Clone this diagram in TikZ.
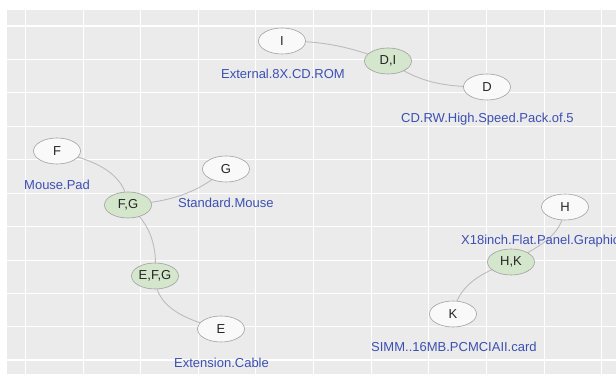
\documentclass[tikz,border=0pt]{standalone}
\usepackage{fontspec}
\setmainfont{Liberation Sans}
\usetikzlibrary{shapes.geometric}
\pgfdeclarelayer{bg}
\pgfsetlayers{bg,main}
\definecolor{panelbg}{RGB}{235,235,235}
\definecolor{edgegray}{RGB}{188,188,188}
\definecolor{nodeborder}{RGB}{160,160,160}
\definecolor{leaffill}{RGB}{249,249,249}
\definecolor{combofill}{RGB}{212,230,204}
\definecolor{labelblue}{RGB}{60,80,178}
\tikzset{
  leaf/.style={ellipse, draw=nodeborder, line width=0.6pt, fill=leaffill, minimum width=47pt, minimum height=26pt, inner sep=0pt, font=\fontsize{13}{15}\selectfont, text=black!85},
  combo/.style={leaf, fill=combofill},
  lab/.style={anchor=west, inner sep=0pt, text=labelblue, font=\fontsize{13}{15}\selectfont},
  edge/.style={draw=edgegray, line width=0.9pt},
  majorgrid/.style={draw=white, line width=1.1pt},
  minorgrid/.style={draw=white, line width=0.55pt}
}
\begin{document}
\begin{tikzpicture}[x=1pt,y=1pt]
\useasboundingbox (0,0) rectangle (616,374);
\clip (0,0) rectangle (616,374);
\begin{pgfonlayer}{bg}
\fill[white] (0,0) rectangle (616,374);
\fill[panelbg] (7,0) rectangle (616,364);
\foreach \i [count=\k] in {25.5,83.1,140.7,198.3,255.9,313.5,371.1,428.7,486.3,543.9,601.5} {
  \ifodd\k \draw[majorgrid] (\i,0) -- (\i,364); \else \draw[minorgrid] (\i,0) -- (\i,364); \fi
}
\foreach \j [count=\k] in {348,314.6,281.2,247.8,214.4,181,147.6,114.2,80.8,47.4,14} {
  \ifodd\k \draw[majorgrid] (7,\j) -- (616,\j); \else \draw[minorgrid] (7,\j) -- (616,\j); \fi
}
\end{pgfonlayer}
% nodes
\node[leaf] (I) at (282,333) {I};
\node[combo] (DI) at (388,313) {D,I};
\node[leaf] (D) at (487,287) {D};
\node[leaf] (F) at (57,223) {F};
\node[leaf] (G) at (226,205) {G};
\node[combo] (FG) at (128,169) {F,G};
\node[combo] (EFG) at (155,98) {E,F,G};
\node[leaf] (E) at (221,45) {E};
\node[leaf] (H) at (565,167) {H};
\node[combo] (HK) at (511,112) {H,K};
\node[leaf] (K) at (453,60) {K};
% labels
\node[lab] (lI) at (221,300) {External.8X.CD.ROM};
\node[lab] (lD) at (401,255) {CD.RW.High.Speed.Pack.of.5};
\node[lab] (lF) at (24,189) {Mouse.Pad};
\node[lab] (lG) at (178,171) {Standard.Mouse};
\node[lab] (lE) at (174,11) {Extension.Cable};
\node[lab] (lH) at (461,133) {X18inch.Flat.Panel.Graphic};
\node[lab] (lK) at (371,27) {SIMM..16MB.PCMCIAII.card};
% edges
\begin{pgfonlayer}{bg}
\draw[edge] (I.center) to[out=0,in=160] (DI.center);
\draw[edge] (DI.center) to[out=-35,in=180] (D.center);
\draw[edge] (F.center) to[out=-15,in=95] (FG.center);
\draw[edge] (FG.center) to[out=5,in=220] (G.center);
\draw[edge] (FG.center) to[out=-40,in=85] (EFG.center);
\draw[edge] (EFG.center) to[out=-90,in=165] (E.center);
\draw[edge] (H.center) to[out=-95,in=30] (HK.center);
\draw[edge] (HK.center) to[out=200,in=80] (K.center);
\end{pgfonlayer}
\end{tikzpicture}
\end{document}
